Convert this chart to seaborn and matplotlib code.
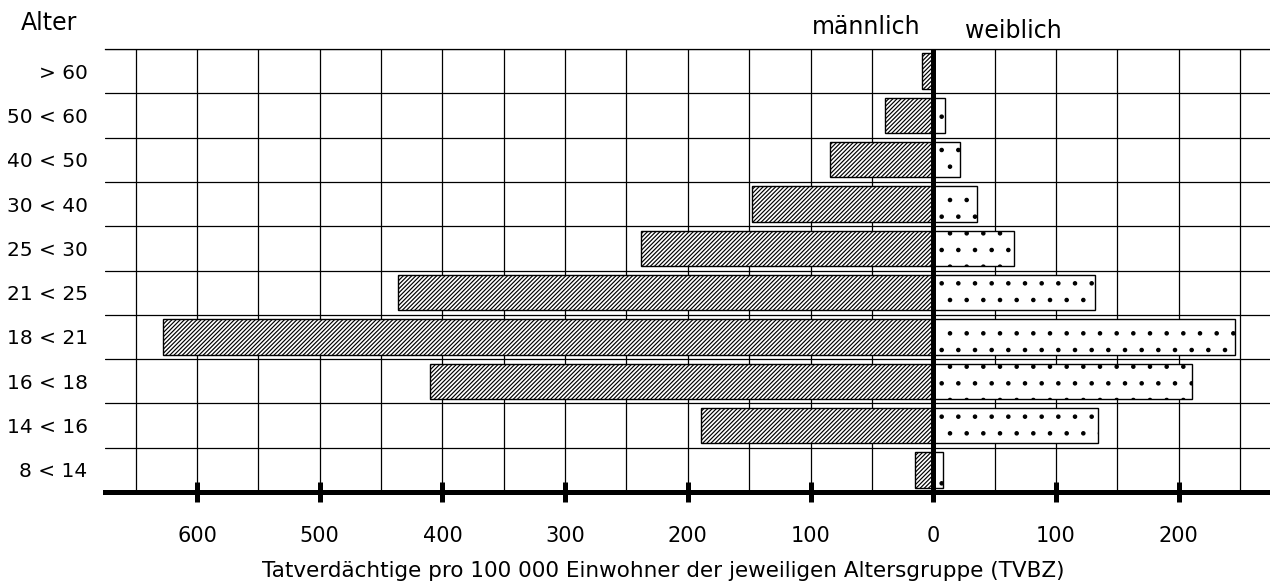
import matplotlib
matplotlib.use("Agg")
import numpy as np
import pandas as pd
import matplotlib.pyplot as plt
import seaborn as sns
from matplotlib.ticker import MultipleLocator, FuncFormatter

# Altersgruppen (oben nach unten) und Tatverdächtigenbelastungszahlen
altersgruppen = ["> 60", "50 < 60", "40 < 50", "30 < 40", "25 < 30",
                 "21 < 25", "18 < 21", "16 < 18", "14 < 16", "8 < 14"]
maennlich = [9, 39, 84, 148, 238, 436, 628, 410, 189, 15]
weiblich = [0, 10, 22, 36, 66, 132, 246, 211, 134, 8]
x_ticks = [-600, -500, -400, -300, -200, -100, 0, 100, 200]
geschlechter = ["männlich", "weiblich"]

sns.set_theme(style="white")
plt.rcParams["font.family"] = ["DejaVu Sans"]
plt.rcParams["text.color"] = "black"
plt.rcParams["axes.labelcolor"] = "black"
plt.rcParams["xtick.color"] = "black"
plt.rcParams["ytick.color"] = "black"
plt.rcParams["hatch.linewidth"] = 0.85
plt.rcParams["hatch.color"] = "black"

df = pd.DataFrame({
    "Alter": altersgruppen * 2,
    "TVBZ": [-v for v in maennlich] + list(weiblich),
    "Geschlecht": [geschlechter[0]] * len(altersgruppen)
                  + [geschlechter[1]] * len(altersgruppen),
})

W, H = 1270, 583
fig = plt.figure(figsize=(W / 100, H / 100), dpi=100)
ax = fig.add_axes([105 / W, 1 - 492 / H, 1 - 105 / W, (492 - 49) / H])

sns.barplot(data=df, x="TVBZ", y="Alter", hue="Geschlecht",
            order=altersgruppen, hue_order=geschlechter,
            palette=["white", "white"], saturation=1, dodge=False,
            width=0.8, edgecolor="black", linewidth=1.0,
            errorbar=None, legend=False, orient="h", ax=ax)

# Schraffur: männlich dicht schräg, weiblich gepunktet
for container, hatch in zip(ax.containers, ["////////", "."]):
    for bar in container:
        bar.set_hatch(hatch)
        bar.set_zorder(3)

ax.set_xlim(-675, 274.5)
ax.set_ylim(len(altersgruppen) - 0.5, -0.5)

# Gitter: senkrecht alle 50, waagerecht an den Gruppengrenzen
ax.set_xticks(x_ticks)
ax.xaxis.set_minor_locator(MultipleLocator(50))
ax.set_yticks(np.arange(-0.5, len(altersgruppen), 1), minor=True)
ax.set_axisbelow(True)
ax.grid(axis="x", which="both", color="black", linewidth=0.9)
ax.grid(axis="y", which="minor", color="black", linewidth=0.9)
ax.grid(axis="y", which="major", visible=False)

ax.xaxis.set_major_formatter(FuncFormatter(lambda v, p: f"{abs(int(v))}"))

for side in ["left", "right"]:
    ax.spines[side].set_visible(False)
ax.spines["top"].set_linewidth(0.9)
ax.spines["top"].set_color("black")
ax.spines["bottom"].set_linewidth(3.6)
ax.spines["bottom"].set_color("black")

ax.tick_params(axis="x", which="major", direction="inout", length=15,
               width=3.6, color="black", pad=17.0, labelsize=15,
               labelcolor="black", bottom=True)
ax.tick_params(axis="x", which="minor", length=0)
ax.tick_params(axis="y", which="both", length=0, pad=12.5, labelsize=14.5,
               labelcolor="black")

ax.axvline(0, color="black", linewidth=3.6, zorder=6)

ax.set_xlabel("")
ax.set_ylabel("")

fig.text(21 / W, 1 - 30 / H, "Alter", fontsize=17, ha="left", va="baseline")
fig.text(812 / W, 1 - 34 / H, "männlich", fontsize=17, ha="left", va="baseline")
fig.text(965 / W, 1 - 38 / H, "weiblich", fontsize=17, ha="left", va="baseline")
fig.text(663 / W, 1 - 577 / H,
         "Tatverdächtige pro 100 000 Einwohner der jeweiligen Altersgruppe (TVBZ)",
         fontsize=15.5, ha="center", va="baseline")

fig.savefig("out.png", dpi=100)
